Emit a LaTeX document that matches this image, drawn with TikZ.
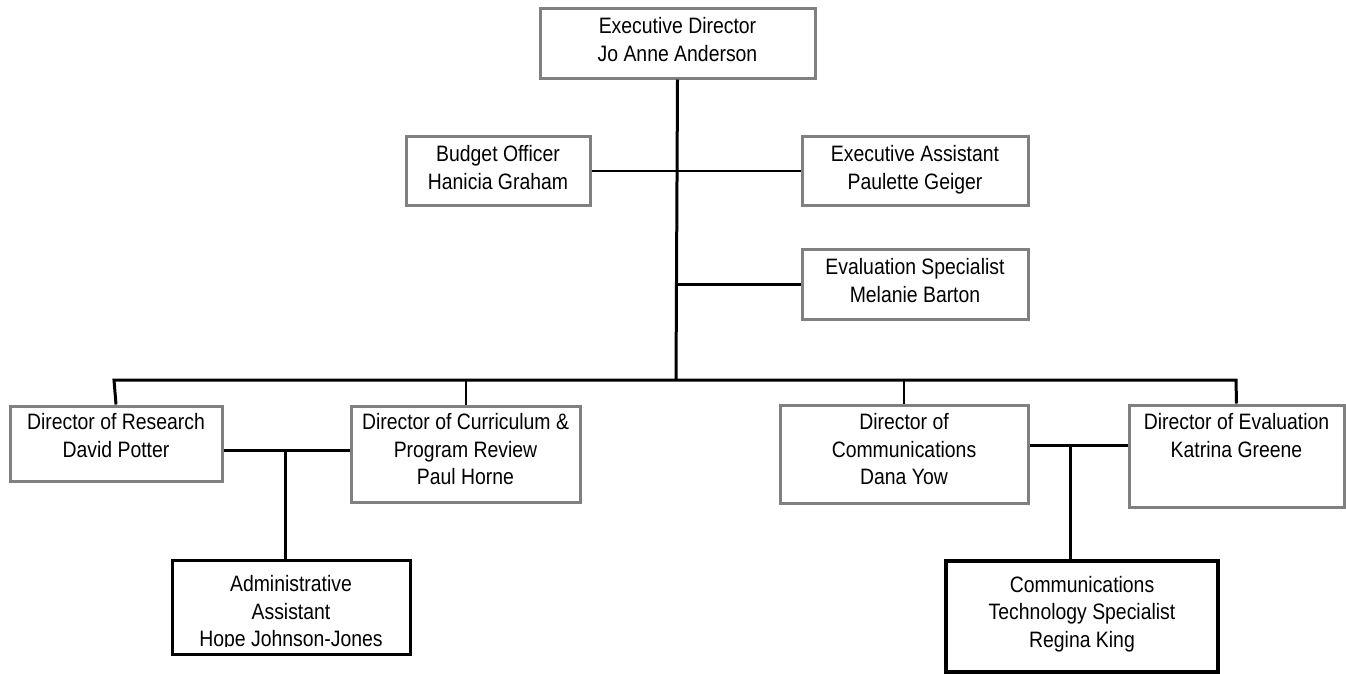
\documentclass[tikz,border=0pt]{standalone}
\usepackage{fontspec}
\setmainfont[FakeStretch=0.87]{Liberation Sans}
\definecolor{boxgray}{RGB}{128,128,128}
\newcommand{\orgtext}[4]{\parbox[c][#2][t]{#1}{\centering\vspace*{#3}\strut\ignorespaces #4\par}}
\begin{document}
\begin{tikzpicture}[x=1pt,y=-1pt,
  orgbox/.style={draw=boxgray, line width=3pt, inner sep=0pt, anchor=north west,
    font=\fontsize{22.3pt}{27.5pt}\selectfont},
  blackbox/.style={orgbox, draw=black},
  link/.style={draw=black, line width=3pt, line join=miter},
  thinlink/.style={draw=black, line width=2pt}]
\useasboundingbox (0,0) rectangle (1346,673);

% top level
\node[orgbox] (ed) at (538.5,6.5) {\orgtext{275pt}{70pt}{6.25pt}{Executive Director\\Jo Anne Anderson}};
\node[orgbox] (bo) at (404.5,134.5) {\orgtext{184pt}{69pt}{6.25pt}{Budget Officer\\Hanicia Graham}};
\node[orgbox] (ea) at (800.5,134.5) {\orgtext{226pt}{69pt}{6.25pt}{Executive Assistant\\Paulette Geiger}};
\node[orgbox] (es) at (800.5,247.5) {\orgtext{226pt}{70pt}{6.25pt}{Evaluation Specialist\\Melanie Barton}};

% directors
\node[orgbox] (dr) at (8.5,404.5) {\orgtext{212pt}{75pt}{4.25pt}{Director of Research\\David Potter}};
\node[orgbox] (dc) at (349.5,404.5) {\orgtext{229pt}{96pt}{4.25pt}{Director of Curriculum \&\\Program Review\\Paul Horne}};
\node[orgbox] (dcm) at (778.5,403.5) {\orgtext{248pt}{98pt}{5.25pt}{Director of\\Communications\\Dana Yow}};
\node[orgbox] (de) at (1127.5,403.5) {\orgtext{215pt}{102pt}{5.25pt}{Director of Evaluation\\Katrina Greene}};

% assistants
\node[blackbox] (aa) at (170.5,558.5) {\orgtext{238pt}{94pt}{0pt}{}};
\begin{scope}
  \clip (170.5,558.5) rectangle (408.5,646.5);
  \node[orgbox, draw=none] (aatext) at (170.5,558.5) {\orgtext{238pt}{94pt}{12.25pt}{Administrative\\Assistant\\Hope Johnson-Jones}};
\end{scope}
\node[blackbox, line width=4pt] (ct) at (944,559) {\orgtext{272pt}{111pt}{11.75pt}{Communications\\Technology Specialist\\Regina King}};

% junction coordinates
\coordinate (busL) at (114,380);
\coordinate (busR) at (1236,380);
\coordinate (trunk) at (676,380);
\coordinate (aaj) at (285,450);
\coordinate (ctj) at (1070,445);

% connectors
\draw[link] (ed.south) -- (trunk);
\draw[thinlink] (bo.east) -- (ea.west);
\draw[link] (es.west) -- (es.west -| trunk);
\draw[link] (dr.north) -- (busL) -- (busR) -- (de.north);
\draw[thinlink] (dc.north |- busL) -- (dc.north);
\draw[thinlink] (dcm.north |- busL) -- (dcm.north);
\draw[link] (dr.east |- aaj) -- (dc.west |- aaj);
\draw[link] (aaj) -- (aaj |- aa.north);
\draw[link] (dcm.east |- ctj) -- (de.west |- ctj);
\draw[link] (ctj) -- (ctj |- ct.north);
\end{tikzpicture}
\end{document}
